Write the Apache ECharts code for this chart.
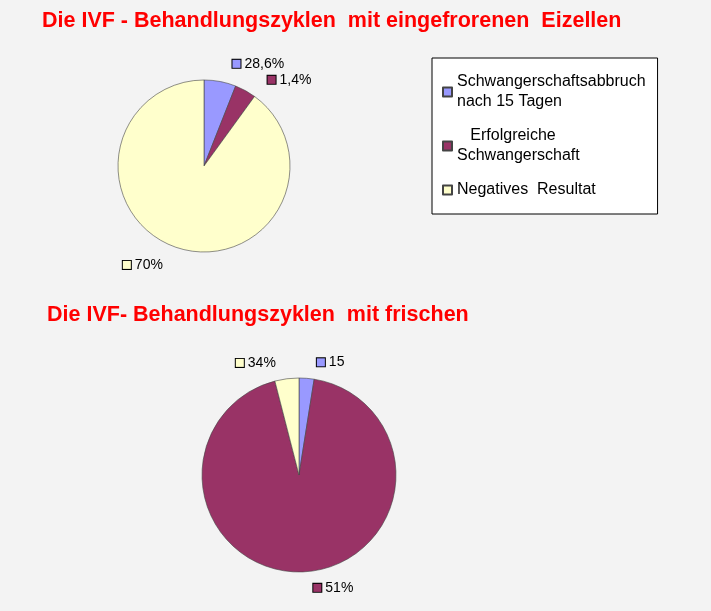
<!DOCTYPE html>
<html><head><meta charset="utf-8">
<script src="https://cdn.jsdelivr.net/npm/echarts@6/dist/echarts.min.js"></script>
<style>html,body{margin:0;background:#f3f3f3}#c{width:711px;height:611px}</style>
</head><body><div id="c"></div>
<script>
const categories = ['Schwangerschaftsabbruch nach 15 Tagen','Erfolgreiche Schwangerschaft','Negatives Resultat'];
const legendText = ['Schwangerschaftsabbruch\nnach 15 Tagen','   Erfolgreiche\nSchwangerschaft','Negatives  Resultat'];
const topValues = [6, 4, 90];
const topLabels = ['28,6%','1,4%','70%'];
const bottomValues = [2.5, 93.5, 4];
const bottomLabels = ['15','51%','34%'];
const colors = ['#9999ff','#993366','#ffffcc'];

const rich = {t:{fontFamily:'Liberation Sans',fontSize:14,color:'#000',padding:[0,0,0,4]}};
colors.forEach((c,i)=>rich['b'+i]={width:8,height:8,backgroundColor:c,borderColor:'#000',borderWidth:1});

function series(vals, labs, center, radius, len){
  return {type:'pie',center,radius,startAngle:90,clockwise:true,
    label:{show:true,position:'outside',formatter:p=>`{b${p.dataIndex}|}{t|${labs[p.dataIndex]}}`,rich},
    labelLine:{show:false,length:len,length2:4},
    itemStyle:{borderColor:'#444',borderWidth:0.6},
    data:vals.map((v,i)=>({name:categories[i],value:v,itemStyle:{color:colors[i]}}))};
}
const chart = echarts.init(document.getElementById('c'));
chart.setOption({
  animation:false,
  title:[
    {text:'Die IVF - Behandlungszyklen  mit eingefrorenen  Eizellen',left:37,top:5,textStyle:{color:'#ff0000',fontSize:21.5,fontWeight:'bold',fontFamily:'Liberation Sans'}},
    {text:'Die IVF- Behandlungszyklen  mit frischen',left:42,top:299,textStyle:{color:'#ff0000',fontSize:21.5,fontWeight:'bold',fontFamily:'Liberation Sans'}}
  ],
  legend:{orient:'vertical',left:432,top:58,padding:[14,12,14,10],itemGap:14,
    backgroundColor:'#fff',borderColor:'#000',borderWidth:1,icon:'rect',itemWidth:9,itemHeight:9,
    data:categories,formatter:n=>legendText[categories.indexOf(n)],
    textStyle:{fontFamily:'Liberation Sans',fontSize:16,color:'#000',lineHeight:20}},
  series:[
    series(topValues, topLabels, [204,166], 86, 18),
    series(bottomValues, bottomLabels, [299,475], 97, 16)
  ]
});
</script></body></html>
